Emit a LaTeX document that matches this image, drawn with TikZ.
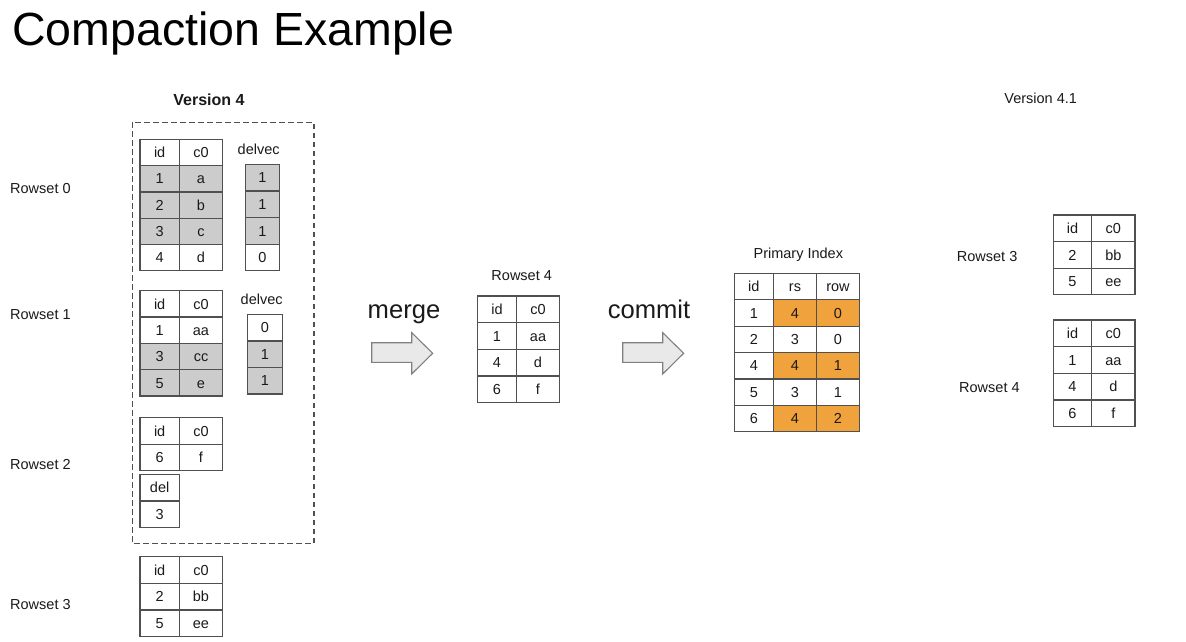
\documentclass[tikz,border=0pt]{standalone}
\usepackage{fontspec}
\setmainfont{Liberation Sans}
\definecolor{bordc}{HTML}{505050}
\definecolor{grayc}{HTML}{CCCCCC}
\definecolor{orc}{HTML}{F0A23C}
\definecolor{arrf}{HTML}{E9E9E9}
\definecolor{arrd}{HTML}{808080}
\definecolor{txt}{HTML}{1A1A1A}
\tikzset{
  cell/.style={draw=bordc,line width=1.2pt,inner sep=0pt,text=txt,
    font=\fontsize{14.5}{16}\selectfont,text height=10.4pt,text depth=0pt},
  wcell/.style={fill=white},
  gcell/.style={fill=grayc},
  ocell/.style={fill=orc},
  lbl/.style={inner sep=0pt,text=txt,font=\fontsize{14.5}{16}\selectfont},
  bigl/.style={inner sep=0pt,text=txt,font=\fontsize{25.6}{28}\selectfont},
  dashbox/.style={draw=bordc,line width=1.2pt,dash pattern=on 5.5pt off 3.5pt},
  bigarrow/.style={draw=arrd,fill=arrf,line width=1.1pt,line join=miter}
}
\newcommand{\tc}[7]{\node[cell,#6,minimum width={#4-#2},minimum height={#5-#3}] (#1) at ({(#2+#4)/2},{(#3+#5)/2}) {#7};}
\newcommand{\trow}[9]{\tc{#1a}{#2}{#5}{#3}{#6}{#7}{#8}\tc{#1b}{#3}{#5}{#4}{#6}{#7}{#9}}
\begin{document}
\begin{tikzpicture}[x=1pt,y=-1pt]
\useasboundingbox[fill=white] (0,0) rectangle (1186,642);

% title
\node[inner sep=0pt,anchor=base west,text=black,font=\fontsize{46.5}{50}\selectfont] (title) at (12,46) {Compaction Example};

% Version 4 group
\node[lbl,anchor=base,font=\bfseries\fontsize{16}{18}\selectfont] (v4) at (209,105) {Version 4};
\draw[dashbox] (132.3,122.3) rectangle (314,543.3);

% row labels left
\node[lbl,anchor=base west] (l0) at (10,193.3) {Rowset 0};
\node[lbl,anchor=base west] (l1) at (10,319) {Rowset 1};
\node[lbl,anchor=base west] (l2) at (10,469) {Rowset 2};
\node[lbl,anchor=base west] (l3) at (10,609) {Rowset 3};

% Rowset 0
\trow{rzh}{140}{179.3}{222.7}{139.3}{165.6}{wcell}{id}{c0}
\trow{rzi}{140}{179.3}{222.7}{165.6}{191.9}{gcell}{1}{a}
\trow{rzj}{140}{179.3}{222.7}{191.9}{218.2}{gcell}{2}{b}
\trow{rzk}{140}{179.3}{222.7}{218.2}{244.5}{gcell}{3}{c}
\trow{rzl}{140}{179.3}{222.7}{244.5}{270.8}{wcell}{4}{d}
\node[lbl,anchor=base] (dvzl) at (258.7,154) {delvec};
\tc{dvza}{245.7}{164.3}{279.3}{190.9}{gcell}{1}
\tc{dvzb}{245.7}{190.9}{279.3}{217.5}{gcell}{1}
\tc{dvzc}{245.7}{217.5}{279.3}{244.1}{gcell}{1}
\tc{dvzd}{245.7}{244.1}{279.3}{270.7}{wcell}{0}

% Rowset 1
\trow{roh}{140}{179.3}{222.7}{290.7}{317}{wcell}{id}{c0}
\trow{roi}{140}{179.3}{222.7}{317}{343.3}{wcell}{1}{aa}
\trow{roj}{140}{179.3}{222.7}{343.3}{369.6}{gcell}{3}{cc}
\trow{rok}{140}{179.3}{222.7}{369.6}{396}{gcell}{5}{e}
\node[lbl,anchor=base] (dvol) at (261.7,304) {delvec};
\tc{dvoa}{247.7}{314.3}{282.3}{340.9}{wcell}{0}
\tc{dvob}{247.7}{340.9}{282.3}{367.4}{gcell}{1}
\tc{dvoc}{247.7}{367.4}{282.3}{394}{gcell}{1}

% Rowset 2
\trow{rth}{140}{179.3}{222.7}{417.7}{444.3}{wcell}{id}{c0}
\trow{rti}{140}{179.3}{222.7}{444.3}{470.7}{wcell}{6}{f}
\tc{dela}{140}{474.3}{179.3}{501}{wcell}{del}
\tc{delb}{140}{501}{179.3}{527.3}{wcell}{3}

% Rowset 3 (left)
\trow{rsh}{140}{179.3}{222.7}{556.7}{583.3}{wcell}{id}{c0}
\trow{rsi}{140}{179.3}{222.7}{583.3}{610}{wcell}{2}{bb}
\trow{rsj}{140}{179.3}{222.7}{610}{636.7}{wcell}{5}{ee}

% merge
\node[bigl,anchor=base] (merge) at (404,318.3) {merge};
\draw[bigarrow] (371.7,342.7) -- (411.7,342.7) -- (411.7,332.7) -- (432.7,353.3) -- (411.7,374) -- (411.7,362.3) -- (371.7,362.3) -- cycle;

% Rowset 4 (middle)
\node[lbl,anchor=base] (r4l) at (521.7,280) {Rowset 4};
\trow{rfh}{477.3}{516.7}{559.3}{296}{322.7}{wcell}{id}{c0}
\trow{rfi}{477.3}{516.7}{559.3}{322.7}{349.3}{wcell}{1}{aa}
\trow{rfj}{477.3}{516.7}{559.3}{349.3}{376}{wcell}{4}{d}
\trow{rfk}{477.3}{516.7}{559.3}{376}{402.7}{wcell}{6}{f}

% commit
\node[bigl,anchor=base] (commit) at (649,318.3) {commit};
\draw[bigarrow] (622.7,342.7) -- (662.7,342.7) -- (662.7,332.7) -- (683.7,353.3) -- (662.7,374) -- (662.7,362.3) -- (622.7,362.3) -- cycle;

% Primary index
\node[lbl,anchor=base] (pil) at (798.3,258.3) {Primary Index};
\tc{pha}{734.3}{273.3}{773.3}{299.7}{wcell}{id}
\tc{phb}{773.3}{273.3}{816.7}{299.7}{wcell}{rs}
\tc{phc}{816.7}{273.3}{859.3}{299.7}{wcell}{row}
\tc{p1a}{734.3}{299.7}{773.3}{326.1}{wcell}{1}
\tc{p1b}{773.3}{299.7}{816.7}{326.1}{ocell}{4}
\tc{p1c}{816.7}{299.7}{859.3}{326.1}{ocell}{0}
\tc{p2a}{734.3}{326.1}{773.3}{352.5}{wcell}{2}
\tc{p2b}{773.3}{326.1}{816.7}{352.5}{wcell}{3}
\tc{p2c}{816.7}{326.1}{859.3}{352.5}{wcell}{0}
\tc{p3a}{734.3}{352.5}{773.3}{378.9}{wcell}{4}
\tc{p3b}{773.3}{352.5}{816.7}{378.9}{ocell}{4}
\tc{p3c}{816.7}{352.5}{859.3}{378.9}{ocell}{1}
\tc{p4a}{734.3}{378.9}{773.3}{405.3}{wcell}{5}
\tc{p4b}{773.3}{378.9}{816.7}{405.3}{wcell}{3}
\tc{p4c}{816.7}{378.9}{859.3}{405.3}{wcell}{1}
\tc{p5a}{734.3}{405.3}{773.3}{431.7}{wcell}{6}
\tc{p5b}{773.3}{405.3}{816.7}{431.7}{ocell}{4}
\tc{p5c}{816.7}{405.3}{859.3}{431.7}{ocell}{2}

% Version 4.1
\node[lbl,anchor=base] (v41) at (1040.7,103.3) {Version 4.1};
\node[lbl,anchor=base west] (rl3) at (956.7,261) {Rowset 3};
\trow{qsh}{1053.3}{1091.7}{1135}{215}{241.6}{wcell}{id}{c0}
\trow{qsi}{1053.3}{1091.7}{1135}{241.6}{268.2}{wcell}{2}{bb}
\trow{qsj}{1053.3}{1091.7}{1135}{268.2}{294.6}{wcell}{5}{ee}
\node[lbl,anchor=base west] (rl4) at (959,392.3) {Rowset 4};
\trow{qfh}{1053.3}{1091.7}{1135}{320}{346.7}{wcell}{id}{c0}
\trow{qfi}{1053.3}{1091.7}{1135}{346.7}{373.3}{wcell}{1}{aa}
\trow{qfj}{1053.3}{1091.7}{1135}{373.3}{400}{wcell}{4}{d}
\trow{qfk}{1053.3}{1091.7}{1135}{400}{426.7}{wcell}{6}{f}
\end{tikzpicture}
\end{document}
